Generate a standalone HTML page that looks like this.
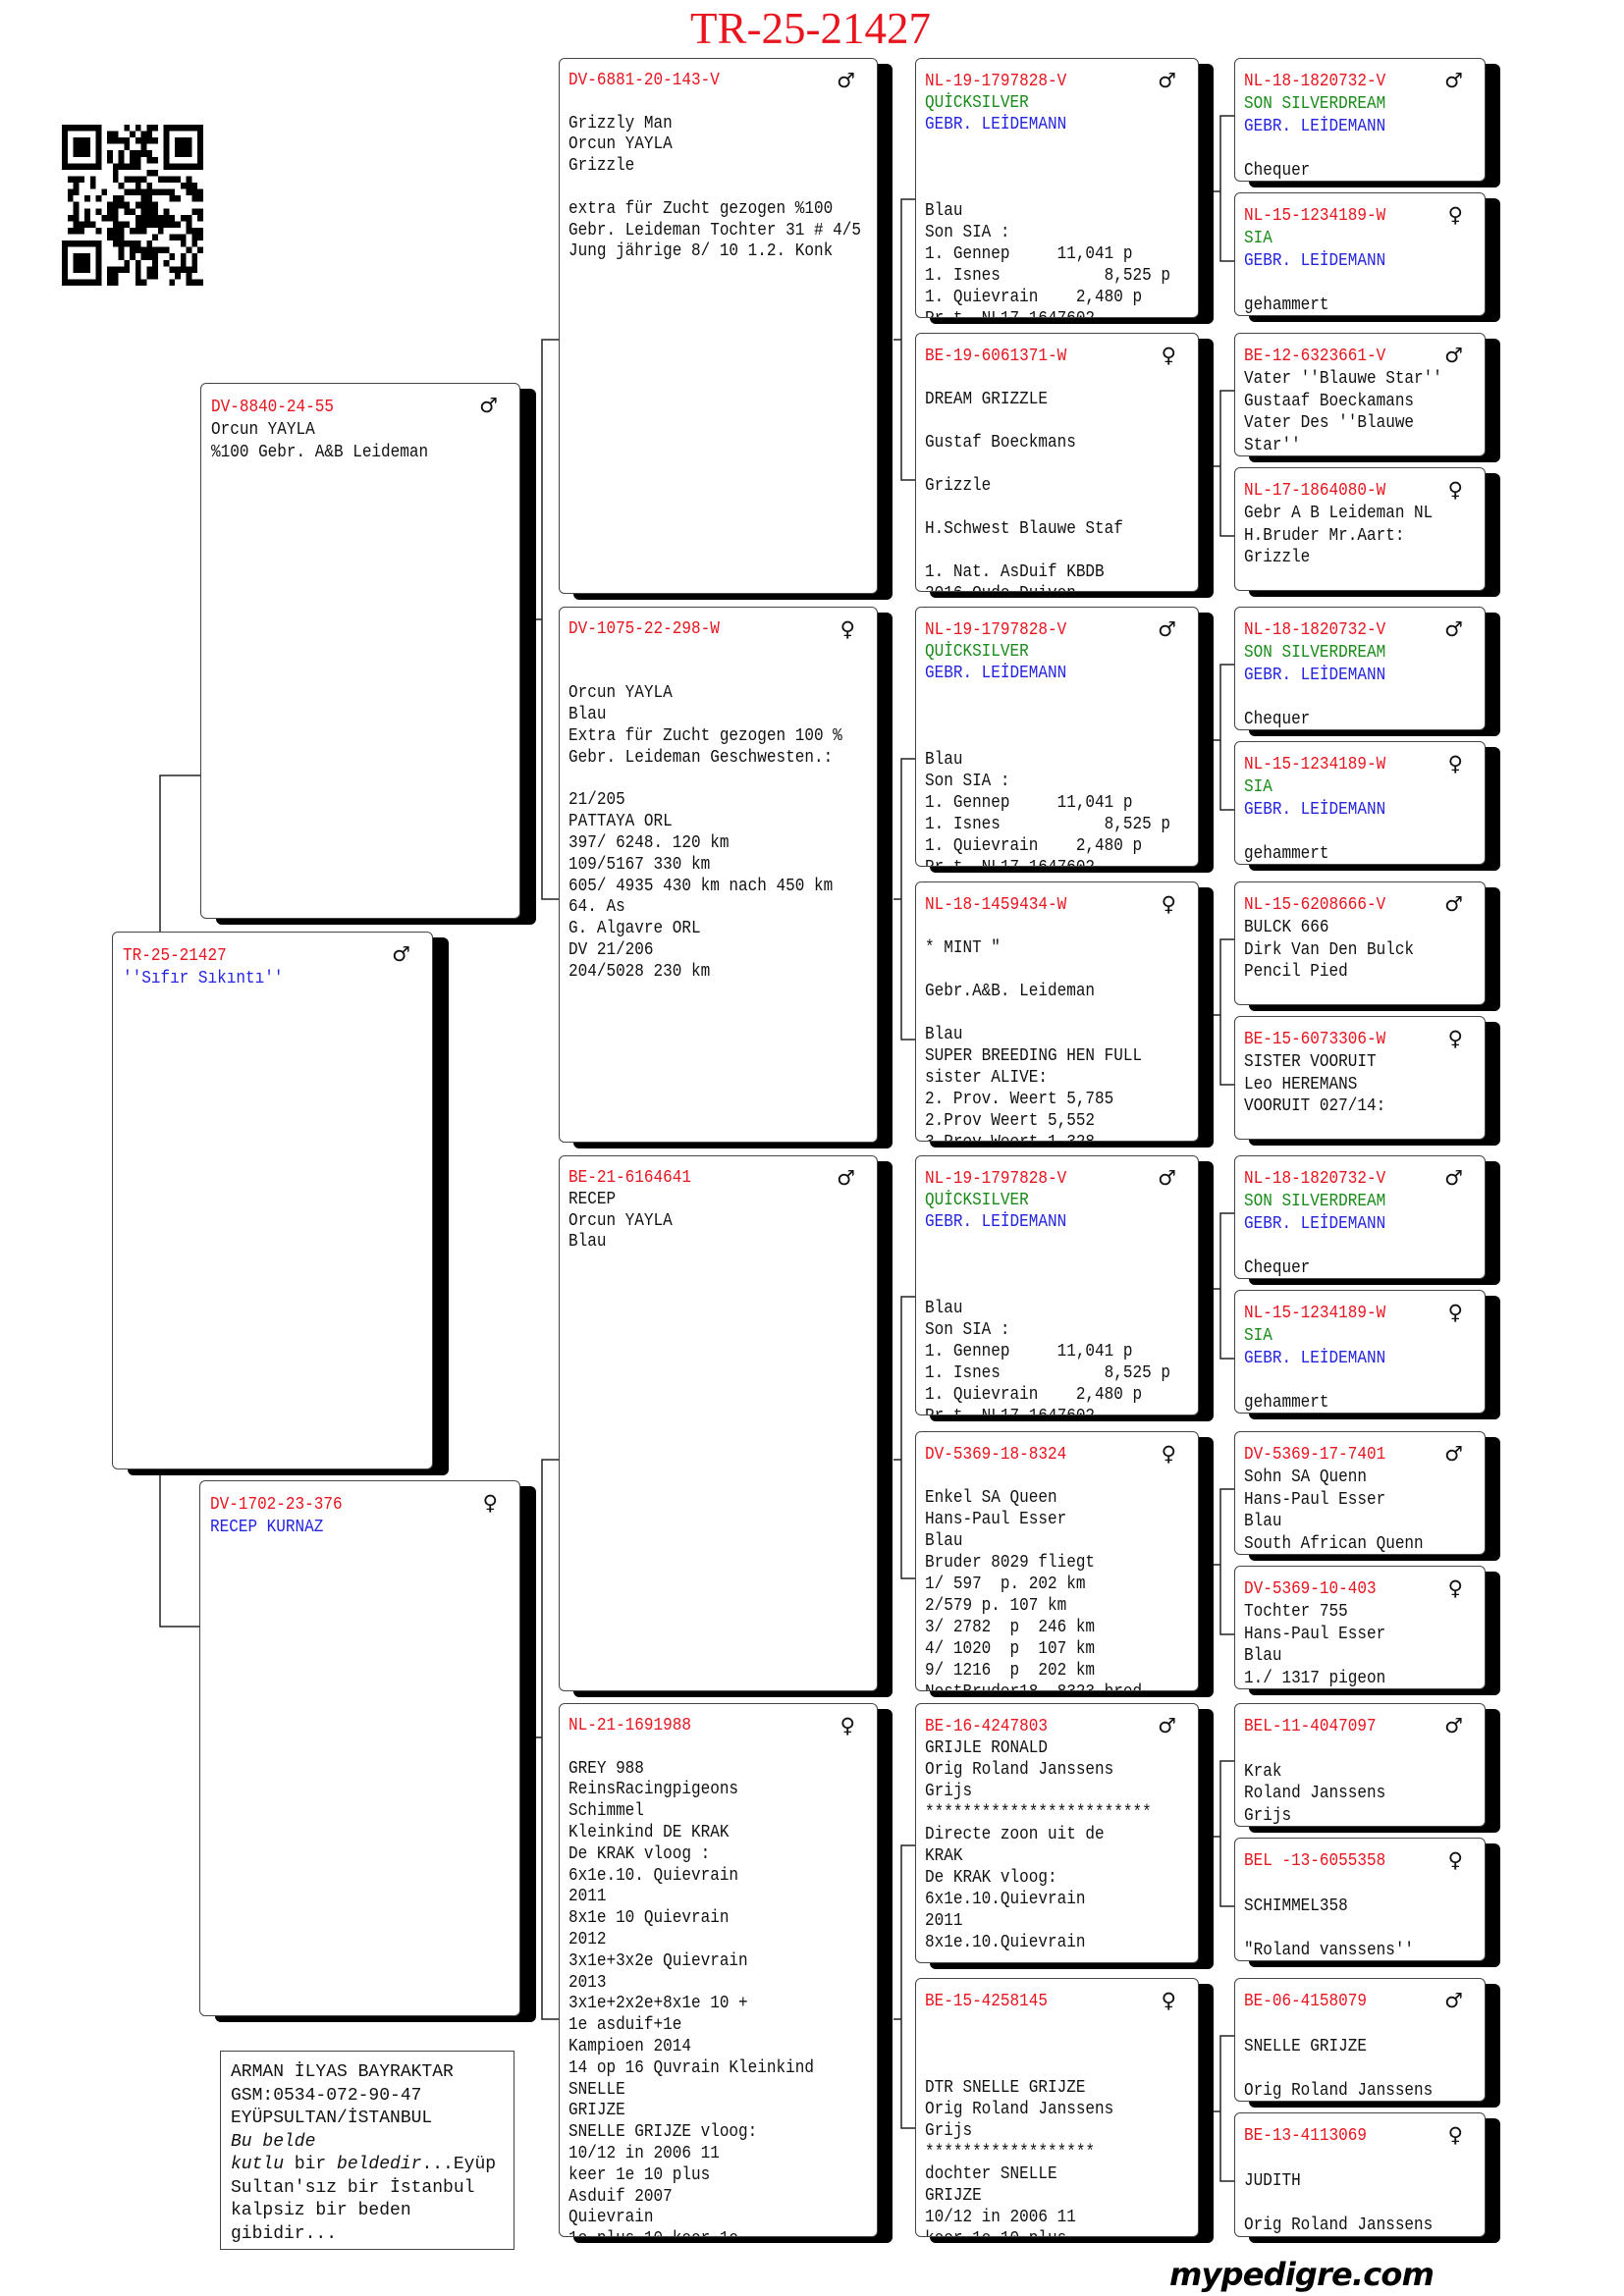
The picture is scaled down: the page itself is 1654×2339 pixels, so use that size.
<!DOCTYPE html>
<html><head><meta charset="utf-8">
<style>
*{margin:0;padding:0;box-sizing:border-box}
body{width:1654px;height:2339px;background:#fff;position:relative;overflow:hidden;font-family:"Liberation Mono","DejaVu Sans Mono",monospace;color:#111}
.sh{position:absolute;background:#000;border-radius:6px}
.b{position:absolute;background:#fff;border:1.5px solid #444;border-radius:6px;overflow:hidden}
.t{position:absolute;left:9px;top:12px;width:120%;font-size:18px;line-height:21.8px;white-space:pre;transform:scaleX(.89);transform-origin:0 0}
.g4 .t{line-height:22.8px}
.g3 .t{line-height:22px}
.r{color:#e8141e}.gr{color:#1a8a1a}.bl{color:#2424e0}
.s{position:absolute;top:10px;right:22px;font-size:21px;line-height:24px;font-family:"DejaVu Sans",sans-serif}
.g1 .t{left:10px;top:13px;line-height:23px}
</style></head><body>

<div style="position:absolute;left:703px;top:4px;font-family:'Liberation Serif',serif;font-size:45px;color:#e8141e;line-height:50px">TR-25-21427</div>

<svg id="qr" style="position:absolute;left:63px;top:127px" width="144" height="164" viewBox="0 0 25 25" preserveAspectRatio="none" shape-rendering="crispEdges"></svg>

<svg style="position:absolute;left:0;top:0" width="1654" height="2339" fill="none" stroke="#222" stroke-width="1.5">
<path d="M163 949V790H204M163 1494V1657H204"/>
<path d="M569 346H552V916H569M546 631H552"/>
<path d="M569 1487H552V2057H569M546 1770H552"/>
<path d="M932 203H918V489H932M910 346H918"/>
<path d="M932 773H918V1059H932M910 916H918"/>
<path d="M932 1321H918V1608H932M910 1487H918"/>
<path d="M932 1880H918V2168H932M910 2057H918"/>
<path d="M1257 118H1243V266H1257M1236 195H1243"/>
<path d="M1257 398H1243V546H1257M1236 475H1243"/>
<path d="M1257 677H1243V825H1257M1236 754H1243"/>
<path d="M1257 957H1243V1105H1257M1236 1034H1243"/>
<path d="M1257 1236H1243V1384H1257M1236 1313H1243"/>
<path d="M1257 1517H1243V1665H1257M1236 1594H1243"/>
<path d="M1257 1794H1243V1942H1257M1236 1871H1243"/>
<path d="M1257 2074H1243V2222H1257M1236 2151H1243"/>
</svg>

<!-- subject & gen1 -->
<div class="sh" style="left:130px;top:955px;width:327px;height:548px"></div>
<div class="b g1" style="left:114px;top:949px;width:327px;height:548px"><div class="t"><span class="r">TR-25-21427</span>
<span class="bl">''Sıfır Sıkıntı''</span></div><div class="s">♂</div></div>

<div class="sh" style="left:220px;top:396px;width:326px;height:546px"></div>
<div class="b g1" style="left:204px;top:390px;width:326px;height:546px"><div class="t"><span class="r">DV-8840-24-55</span>
Orcun YAYLA
%100 Gebr. A&amp;B Leideman</div><div class="s">♂</div></div>

<div class="sh" style="left:219px;top:1514px;width:327px;height:546px"></div>
<div class="b g1" style="left:203px;top:1508px;width:327px;height:546px"><div class="t"><span class="r">DV-1702-23-376</span>
<span class="bl">RECEP KURNAZ</span></div><div class="s">♀</div></div>

<div style="position:absolute;left:224px;top:2089px;width:300px;height:203px;border:1.5px solid #444;padding:10px 0 0 10px;font-size:18px;line-height:23.5px;white-space:pre">ARMAN İLYAS BAYRAKTAR
GSM:0534-072-90-47
EYÜPSULTAN/İSTANBUL
<i>Bu belde</i>
<i>kutlu</i> bir <i>beldedir</i>...Eyüp
Sultan'sız bir İstanbul
kalpsiz bir beden
gibidir...</div>

<!-- gen2 -->
<div class="sh" style="left:584px;top:65px;width:325px;height:546px"></div>
<div class="b" style="left:569px;top:59px;width:325px;height:546px"><div class="t"><span class="r">DV-6881-20-143-V</span>

Grizzly Man
Orcun YAYLA
Grizzle

extra für Zucht gezogen %100
Gebr. Leideman Tochter 31 # 4/5
Jung jährige 8/ 10 1.2. Konk</div><div class="s">♂</div></div>

<div class="sh" style="left:584px;top:624px;width:325px;height:546px"></div>
<div class="b" style="left:569px;top:618px;width:325px;height:546px"><div class="t"><span class="r">DV-1075-22-298-W</span>


Orcun YAYLA
Blau
Extra für Zucht gezogen 100 %
Gebr. Leideman Geschwesten.:

21/205
PATTAYA ORL
397/ 6248. 120 km
109/5167 330 km
605/ 4935 430 km nach 450 km
64. As
G. Algavre ORL
DV 21/206
204/5028 230 km</div><div class="s">♀</div></div>

<div class="sh" style="left:584px;top:1183px;width:325px;height:546px"></div>
<div class="b" style="left:569px;top:1177px;width:325px;height:546px"><div class="t"><span class="r">BE-21-6164641</span>
RECEP
Orcun YAYLA
Blau</div><div class="s">♂</div></div>

<div class="sh" style="left:584px;top:1741px;width:325px;height:544px"></div>
<div class="b" style="left:569px;top:1735px;width:325px;height:544px"><div class="t"><span class="r">NL-21-1691988</span>

GREY 988
ReinsRacingpigeons
Schimmel
Kleinkind DE KRAK
De KRAK vloog :
6x1e.10. Quievrain
2011
8x1e 10 Quievrain
2012
3x1e+3x2e Quievrain
2013
3x1e+2x2e+8x1e 10 +
1e asduif+1e
Kampioen 2014
14 op 16 Quvrain Kleinkind
SNELLE
GRIJZE
SNELLE GRIJZE vloog:
10/12 in 2006 11
keer 1e 10 plus
Asduif 2007
Quievrain
1e plus 10 keer 1e</div><div class="s">♀</div></div>

<!-- gen3 -->
<div class="sh" style="left:947px;top:65px;width:289px;height:265px"></div>
<div class="b g3" style="left:932px;top:59px;width:289px;height:265px"><div class="t"><span class="r">NL-19-1797828-V</span>
<span class="gr">QUİCKSILVER</span>
<span class="bl">GEBR. LEİDEMANN</span>



Blau
Son SIA :
1. Gennep     11,041 p
1. Isnes           8,525 p
1. Quievrain    2,480 p
Pr.t. NL17-1647602</div><div class="s">♂</div></div>

<div class="sh" style="left:947px;top:345px;width:289px;height:264px"></div>
<div class="b g3" style="left:932px;top:339px;width:289px;height:264px"><div class="t"><span class="r">BE-19-6061371-W</span>

DREAM GRIZZLE

Gustaf Boeckmans

Grizzle

H.Schwest Blauwe Staf

1. Nat. AsDuif KBDB
2016 Oude Duiven</div><div class="s">♀</div></div>

<div class="sh" style="left:947px;top:624px;width:289px;height:265px"></div>
<div class="b g3" style="left:932px;top:618px;width:289px;height:265px"><div class="t"><span class="r">NL-19-1797828-V</span>
<span class="gr">QUİCKSILVER</span>
<span class="bl">GEBR. LEİDEMANN</span>



Blau
Son SIA :
1. Gennep     11,041 p
1. Isnes           8,525 p
1. Quievrain    2,480 p
Pr.t. NL17-1647602</div><div class="s">♂</div></div>

<div class="sh" style="left:947px;top:904px;width:289px;height:265px"></div>
<div class="b g3" style="left:932px;top:898px;width:289px;height:265px"><div class="t"><span class="r">NL-18-1459434-W</span>

* MINT "

Gebr.A&amp;B. Leideman

Blau
SUPER BREEDING HEN FULL
sister ALIVE:
2. Prov. Weert 5,785
2.Prov Weert 5,552
3.Prov Weert 1,328</div><div class="s">♀</div></div>

<div class="sh" style="left:947px;top:1183px;width:289px;height:265px"></div>
<div class="b g3" style="left:932px;top:1177px;width:289px;height:265px"><div class="t"><span class="r">NL-19-1797828-V</span>
<span class="gr">QUİCKSILVER</span>
<span class="bl">GEBR. LEİDEMANN</span>



Blau
Son SIA :
1. Gennep     11,041 p
1. Isnes           8,525 p
1. Quievrain    2,480 p
Pr.t. NL17-1647602</div><div class="s">♂</div></div>

<div class="sh" style="left:947px;top:1464px;width:289px;height:265px"></div>
<div class="b g3" style="left:932px;top:1458px;width:289px;height:265px"><div class="t"><span class="r">DV-5369-18-8324</span>

Enkel SA Queen
Hans-Paul Esser
Blau
Bruder 8029 fliegt
1/ 597  p. 202 km
2/579 p. 107 km
3/ 2782  p  246 km
4/ 1020  p  107 km
9/ 1216  p  202 km
NestBruder18- 8323 bred</div><div class="s">♀</div></div>

<div class="sh" style="left:947px;top:1741px;width:289px;height:265px"></div>
<div class="b g3" style="left:932px;top:1735px;width:289px;height:265px"><div class="t"><span class="r">BE-16-4247803</span>
GRIJLE RONALD
Orig Roland Janssens
Grijs
************************
Directe zoon uit de
KRAK
De KRAK vloog:
6x1e.10.Quievrain
2011
8x1e.10.Quievrain</div><div class="s">♂</div></div>

<div class="sh" style="left:947px;top:2021px;width:289px;height:264px"></div>
<div class="b g3" style="left:932px;top:2015px;width:289px;height:264px"><div class="t"><span class="r">BE-15-4258145</span>



DTR SNELLE GRIJZE
Orig Roland Janssens
Grijs
******************
dochter SNELLE
GRIJZE
10/12 in 2006 11
keer 1e 10 plus</div><div class="s">♀</div></div>

<!-- gen4 -->
<div class="sh" style="left:1272px;top:65px;width:256px;height:126px"></div>
<div class="b g4" style="left:1257px;top:59px;width:256px;height:126px"><div class="t"><span class="r">NL-18-1820732-V</span>
<span class="gr">SON SILVERDREAM</span>
<span class="bl">GEBR. LEİDEMANN</span>

Chequer</div><div class="s">♂</div></div>
<div class="sh" style="left:1272px;top:202px;width:256px;height:126px"></div>
<div class="b g4" style="left:1257px;top:196px;width:256px;height:126px"><div class="t"><span class="r">NL-15-1234189-W</span>
<span class="gr">SIA</span>
<span class="bl">GEBR. LEİDEMANN</span>

gehammert</div><div class="s">♀</div></div>

<div class="sh" style="left:1272px;top:345px;width:256px;height:126px"></div>
<div class="b g4" style="left:1257px;top:339px;width:256px;height:126px"><div class="t"><span class="r">BE-12-6323661-V</span>
Vater ''Blauwe Star''
Gustaaf Boeckamans
Vater Des ''Blauwe
Star''</div><div class="s">♂</div></div>
<div class="sh" style="left:1272px;top:482px;width:256px;height:126px"></div>
<div class="b g4" style="left:1257px;top:476px;width:256px;height:126px"><div class="t"><span class="r">NL-17-1864080-W</span>
Gebr A B Leideman NL
H.Bruder Mr.Aart:
Grizzle</div><div class="s">♀</div></div>

<div class="sh" style="left:1272px;top:624px;width:256px;height:126px"></div>
<div class="b g4" style="left:1257px;top:618px;width:256px;height:126px"><div class="t"><span class="r">NL-18-1820732-V</span>
<span class="gr">SON SILVERDREAM</span>
<span class="bl">GEBR. LEİDEMANN</span>

Chequer</div><div class="s">♂</div></div>
<div class="sh" style="left:1272px;top:761px;width:256px;height:126px"></div>
<div class="b g4" style="left:1257px;top:755px;width:256px;height:126px"><div class="t"><span class="r">NL-15-1234189-W</span>
<span class="gr">SIA</span>
<span class="bl">GEBR. LEİDEMANN</span>

gehammert</div><div class="s">♀</div></div>

<div class="sh" style="left:1272px;top:904px;width:256px;height:126px"></div>
<div class="b g4" style="left:1257px;top:898px;width:256px;height:126px"><div class="t"><span class="r">NL-15-6208666-V</span>
BULCK 666
Dirk Van Den Bulck
Pencil Pied</div><div class="s">♂</div></div>
<div class="sh" style="left:1272px;top:1041px;width:256px;height:126px"></div>
<div class="b g4" style="left:1257px;top:1035px;width:256px;height:126px"><div class="t"><span class="r">BE-15-6073306-W</span>
SISTER VOORUIT
Leo HEREMANS
VOORUIT 027/14:</div><div class="s">♀</div></div>

<div class="sh" style="left:1272px;top:1183px;width:256px;height:126px"></div>
<div class="b g4" style="left:1257px;top:1177px;width:256px;height:126px"><div class="t"><span class="r">NL-18-1820732-V</span>
<span class="gr">SON SILVERDREAM</span>
<span class="bl">GEBR. LEİDEMANN</span>

Chequer</div><div class="s">♂</div></div>
<div class="sh" style="left:1272px;top:1320px;width:256px;height:126px"></div>
<div class="b g4" style="left:1257px;top:1314px;width:256px;height:126px"><div class="t"><span class="r">NL-15-1234189-W</span>
<span class="gr">SIA</span>
<span class="bl">GEBR. LEİDEMANN</span>

gehammert</div><div class="s">♀</div></div>

<div class="sh" style="left:1272px;top:1464px;width:256px;height:126px"></div>
<div class="b g4" style="left:1257px;top:1458px;width:256px;height:126px"><div class="t"><span class="r">DV-5369-17-7401</span>
Sohn SA Quenn
Hans-Paul Esser
Blau
South African Quenn</div><div class="s">♂</div></div>
<div class="sh" style="left:1272px;top:1601px;width:256px;height:126px"></div>
<div class="b g4" style="left:1257px;top:1595px;width:256px;height:126px"><div class="t"><span class="r">DV-5369-10-403</span>
Tochter 755
Hans-Paul Esser
Blau
1./ 1317 pigeon</div><div class="s">♀</div></div>

<div class="sh" style="left:1272px;top:1741px;width:256px;height:126px"></div>
<div class="b g4" style="left:1257px;top:1735px;width:256px;height:126px"><div class="t"><span class="r">BEL-11-4047097</span>

Krak
Roland Janssens
Grijs
Schimmel Schimmel</div><div class="s">♂</div></div>
<div class="sh" style="left:1272px;top:1878px;width:256px;height:126px"></div>
<div class="b g4" style="left:1257px;top:1872px;width:256px;height:126px"><div class="t"><span class="r">BEL -13-6055358</span>

SCHIMMEL358

"Roland vanssens''</div><div class="s">♀</div></div>

<div class="sh" style="left:1272px;top:2021px;width:256px;height:126px"></div>
<div class="b g4" style="left:1257px;top:2015px;width:256px;height:126px"><div class="t"><span class="r">BE-06-4158079</span>

SNELLE GRIJZE

Orig Roland Janssens</div><div class="s">♂</div></div>
<div class="sh" style="left:1272px;top:2158px;width:256px;height:127px"></div>
<div class="b g4" style="left:1257px;top:2152px;width:256px;height:127px"><div class="t"><span class="r">BE-13-4113069</span>

JUDITH

Orig Roland Janssens</div><div class="s">♀</div></div>

<div style="position:absolute;left:1191px;top:2297px;font-family:'DejaVu Sans','Liberation Sans',sans-serif;font-weight:bold;font-style:italic;font-size:32px;line-height:40px;color:#000;letter-spacing:-0.8px">mypedigre.com</div>

<script>
(function(){
var N=25,g=[],s=12345;function rnd(){s=(s*1103515245+12345)&0x7fffffff;return s/0x7fffffff;}
for(var y=0;y<N;y++){g[y]=[];for(var x=0;x<N;x++)g[y][x]=rnd()<0.5?1:0;}
function f(ox,oy){for(var y=-1;y<8;y++)for(var x=-1;x<8;x++){var X=ox+x,Y=oy+y;if(X<0||Y<0||X>=N||Y>=N)continue;var v=0;if(x>=0&&x<7&&y>=0&&y<7){v=(x==0||x==6||y==0||y==6||(x>=2&&x<=4&&y>=2&&y<=4))?1:0;}g[Y][X]=v;}}
f(0,0);f(18,0);f(0,18);
var d="";for(var y=0;y<N;y++)for(var x=0;x<N;x++)if(g[y][x])d+="M"+x+" "+y+"h1v1h-1z";
document.getElementById("qr").innerHTML='<path d="'+d+'" fill="#000"/>';
})();
</script>
</body></html>
